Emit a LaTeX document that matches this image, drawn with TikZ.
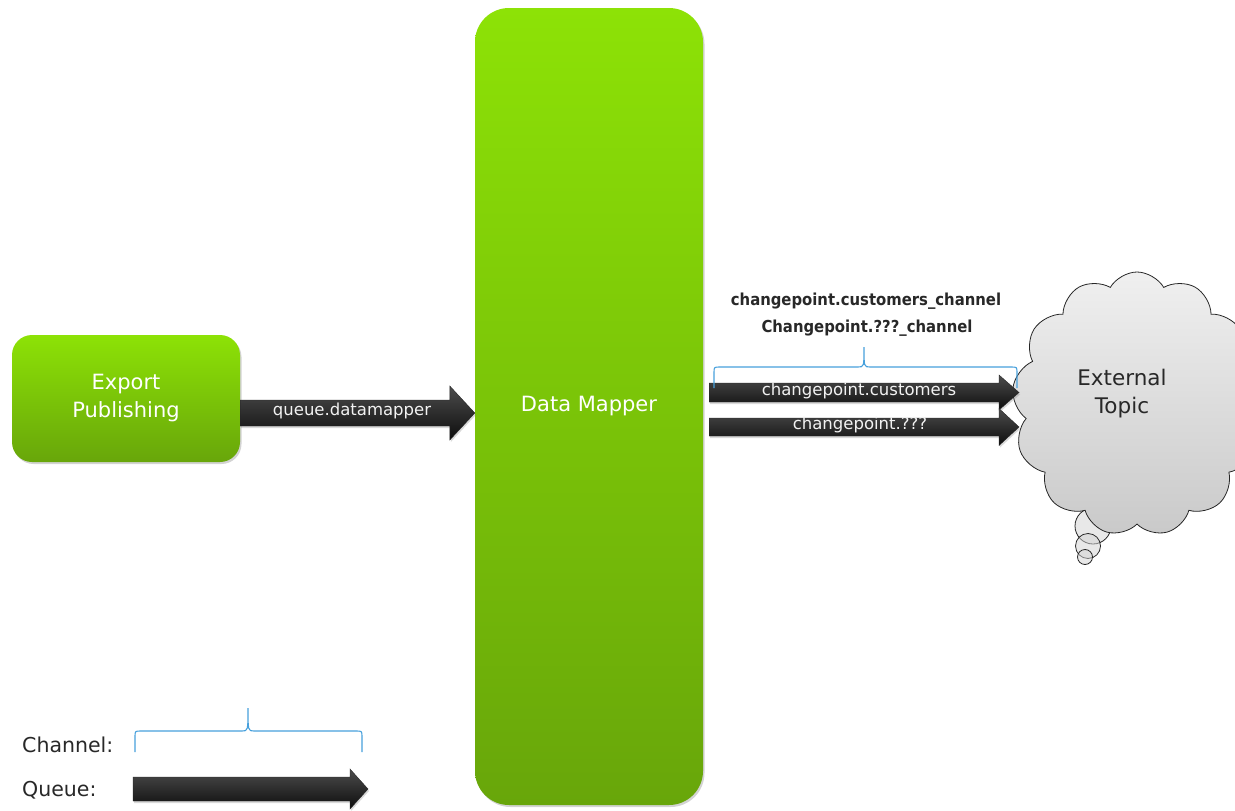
\documentclass[tikz,border=0pt]{standalone}
\usepackage{fontspec}
\setmainfont{DejaVu Sans}
\newfontfamily\chfont{DejaVu Sans}[FakeStretch=0.9]
\usetikzlibrary{calc,shapes.symbols,shadows}
\definecolor{gtop}{RGB}{141,226,6}
\definecolor{gbot}{RGB}{104,166,10}
\definecolor{bracec}{RGB}{70,160,220}
\definecolor{txtdark}{RGB}{40,40,40}
\tikzset{
  gbox/.style={rectangle, top color=gtop, bottom color=gbot, draw=none,
    text=white, align=center, font=\fontsize{21}{28}\selectfont,
    drop shadow={opacity=0.35, shadow xshift=1.5pt, shadow yshift=-2pt}},
  qarrowstyle/.style={top color=gray!60!black, bottom color=black!95, draw=black!85, line width=0.4pt,
    drop shadow={opacity=0.3, shadow xshift=1pt, shadow yshift=-2pt}},
  qlabel/.style={text=white!95!black, font=\fontsize{16.5}{20}\selectfont, inner sep=0pt},
  bracestyle/.style={draw=bracec, line width=1.1pt},
  chtext/.style={text=txtdark, font=\chfont\bfseries\fontsize{16.5}{20}\selectfont, inner sep=0pt},
  legtext/.style={text=txtdark, font=\fontsize{20.5}{24}\selectfont, inner sep=0pt, anchor=west},
  cloudstyle/.style={cloud, cloud puffs=13, cloud puff arc=120, cloud ignores aspect,
    draw=gray!30!black, line width=0.8pt, top color=gray!12, bottom color=gray!42},
  bubble/.style={circle, draw=gray!30!black, line width=0.8pt, fill=gray!35, fill opacity=0.5, inner sep=0pt}
}
\newcommand\qarrow[5]{% start, tip, shaft half, head half, head length
  \path[qarrowstyle] ($(#1)+(0,-#3)$) -- ($(#2)+(-#5,-#3)$) -- ($(#2)+(-#5,-#4)$) -- (#2)
    -- ($(#2)+(-#5,#4)$) -- ($(#2)+(-#5,#3)$) -- ($(#1)+(0,#3)$) -- cycle;}
\newcommand\chbrace[6]{% x1, x2, ybar, yend, ytop, xmid
  \draw[bracestyle] (#1,#4) -- (#1,#3+6) .. controls (#1,#3) .. (#1+6,#3) -- (#6-6,#3)
    .. controls (#6,#3) .. (#6,#5) .. controls (#6,#3) .. (#6+6,#3) -- (#2-6,#3)
    .. controls (#2,#3) .. (#2,#3+6) -- (#2,#4);}
\begin{document}
\begin{tikzpicture}[x=1pt,y=-1pt]
\useasboundingbox (0,0) rectangle (1235,811);

% boxes
\node[gbox, minimum width=228, minimum height=127, rounded corners=20pt] (ep) at (126,398.5) {Export\\Publishing};
\node[gbox, minimum width=228, minimum height=797, rounded corners=34pt] (dm) at (589,406.5) {Data Mapper};

% cloud
\node[bubble, minimum size=36] (b1) at (1093,526) {};
\node[bubble, minimum size=25] (b2) at (1088,546) {};
\node[bubble, minimum size=15] (b3) at (1085,557) {};
\node[cloudstyle, minimum width=250, minimum height=264] (topic) at (1137,404) {};
\node[text=txtdark, align=center, font=\fontsize{21.5}{28}\selectfont] (topiclabel) at (1122,394) {External\\Topic};

% queue arrow
\coordinate (q1s) at ($(ep.east)+(0,14.5)$);
\coordinate (q1t) at (dm.west |- q1s);
\qarrow{q1s}{q1t}{13}{27}{25}
\node[qlabel] (q1l) at (352,411) {queue.datamapper};

% output arrows
\coordinate (c1s) at ($(dm.east)+(6,-14)$);
\coordinate (c1t) at (1019,0 |- c1s);
\qarrow{c1s}{c1t}{9.5}{17.5}{20}
\node[qlabel] (c1l) at (859,391) {changepoint.customers};

\coordinate (c2s) at ($(dm.east)+(6,20.5)$);
\coordinate (c2t) at (1019,0 |- c2s);
\qarrow{c2s}{c2t}{9}{18.5}{20}
\node[qlabel] (c2l) at (860,425) {changepoint.???};

% channel brace and labels
\chbrace{714}{1017}{367}{388}{347}{864}
\node[chtext] (ch1) at (866,301) {changepoint.customers\_channel};
\node[chtext] (ch2) at (867,328) {Changepoint.???\_channel};

% legend
\node[legtext] (chl) at (22,745) {Channel:};
\node[legtext] (qul) at (22,790) {Queue:};
\chbrace{135}{362}{731}{752}{708}{248}
\coordinate (ls) at (133,789);
\coordinate (lt) at (368,789);
\qarrow{ls}{lt}{12}{20}{18}
\end{tikzpicture}
\end{document}
